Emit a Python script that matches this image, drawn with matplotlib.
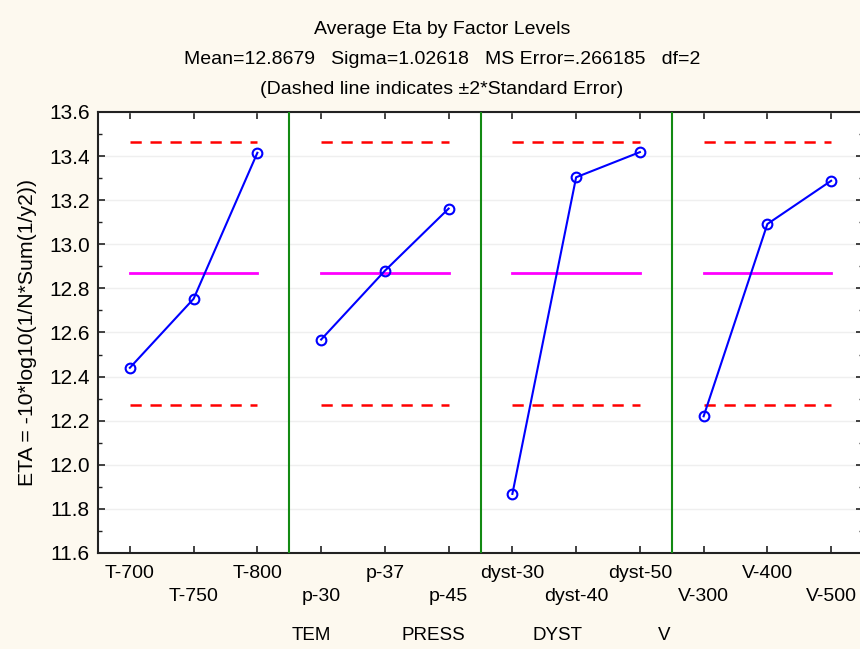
import numpy as np
import matplotlib
matplotlib.use("Agg")
import matplotlib.pyplot as plt
from matplotlib.ticker import MultipleLocator

plt.rcParams['font.family'] = ['Liberation Sans', 'DejaVu Sans']

# data
factors = ['TEM', 'PRESS', 'DYST', 'V']
levels = [['T-700', 'T-750', 'T-800'],
          ['p-30', 'p-37', 'p-45'],
          ['dyst-30', 'dyst-40', 'dyst-50'],
          ['V-300', 'V-400', 'V-500']]
eta_tem = [12.44, 12.753, 13.415]
eta_press = [12.568, 12.88, 13.162]
eta_dyst = [11.868, 13.304, 13.418]
eta_v = [12.22, 13.092, 13.288]
eta_all = [eta_tem, eta_press, eta_dyst, eta_v]
grand_mean = 12.8679
two_se = 0.598

bg = '#fdf9ef'
fig = plt.figure(figsize=(8.6, 6.49), dpi=100, facecolor=bg)
ax = fig.add_axes([98/860, 1-553/649, 765/860, 441/649])
ax.set_facecolor('white')

n = len(levels[0])
labels = []
for i, (lv, vals) in enumerate(zip(levels, eta_all)):
    x = np.arange(n) + i*n
    ax.plot(x, vals, color='#0000ff', lw=1.5, marker='o', ms=7,
            mfc='none', mec='#0000ff', mew=1.5, zorder=5)
    ax.plot([x[0], x[-1]], [grand_mean, grand_mean], color='#ff00ff', lw=2, zorder=3)
    for s in (1, -1):
        ax.plot([x[0], x[-1]], [grand_mean + s*two_se]*2, color='#ff0000',
                lw=1.8, ls=(0, (4.5, 3.5)), zorder=3)
    if i > 0:
        ax.axvline(x[0] - 0.5, color='#138a13', lw=1.5, zorder=4)
    labels += lv

ax.set_xlim(-0.5, 11.5)
ax.set_ylim(11.6, 13.6)
ax.yaxis.set_major_locator(MultipleLocator(0.2))
ax.yaxis.set_minor_locator(MultipleLocator(0.1))
ax.grid(axis='y', which='major', color='#efefef', lw=1)
ax.set_axisbelow(True)

ax.set_xticks(np.arange(len(labels)))
ax.set_xticklabels([l if k % 2 == 0 else '\n' + l for k, l in enumerate(labels)],
                   fontsize=14, linespacing=1.45)
ax.tick_params(axis='both', which='both', direction='in', top=True, right=True,
               color='#222222')
ax.tick_params(axis='both', which='major', length=5, width=1.2)
ax.tick_params(axis='y', which='minor', length=3, width=1)
ax.tick_params(axis='y', labelsize=15, pad=6)
ax.tick_params(axis='x', pad=9)
ax.set_yticklabels(['%.1f' % v for v in ax.get_yticks()])
for sp in ax.spines.values():
    sp.set_linewidth(1.5)
    sp.set_color('#222222')

ax.set_ylabel('ETA = -10*log10(1/N*Sum(1/y2))', fontsize=15.3)
ax.yaxis.set_label_coords(-(98 - 37) / 765, 0.5)

# factor names under the axis
fac_x = [311, 433, 558, 664]
for f, fx in zip(factors, fac_x):
    fig.text(fx/860, 1-636/649, f, ha='center', va='center', fontsize=13.5)

fig.text(442/860, 1-30/649, 'Average Eta by Factor Levels', ha='center', va='center', fontsize=14)
fig.text(442/860, 1-60/649, 'Mean=12.8679   Sigma=1.02618   MS Error=.266185   df=2',
         ha='center', va='center', fontsize=14)
fig.text(442/860, 1-90/649, '(Dashed line indicates \u00b12*Standard Error)',
         ha='center', va='center', fontsize=14)

fig.savefig('out.png', dpi=100, facecolor=bg)
